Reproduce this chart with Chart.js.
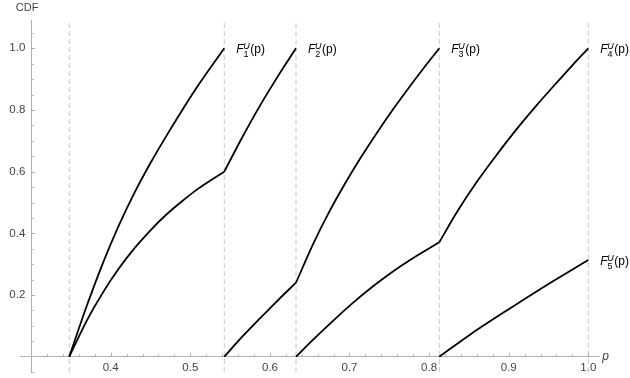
<!DOCTYPE html>
<html>
<head>
<meta charset="utf-8">
<script src="https://cdn.jsdelivr.net/npm/chart.js@4.4.1/dist/chart.umd.min.js"></script>
<style>
  html, body { margin: 0; padding: 0; background: #fff; }
  #wrap { width: 630px; height: 378px; }
</style>
</head>
<body>
<div id="wrap"><canvas id="cdf"></canvas></div>
<script>
// break points (dashed verticals)
var cuts = [0.348, 0.5427, 0.6328, 0.8128, 1.0];

var xTicks = [0.4, 0.5, 0.6, 0.7, 0.8, 0.9, 1.0];
var yTicks = [0.2, 0.4, 0.6, 0.8, 1.0];

// F1
var f1P = [0.348, 0.37, 0.39, 0.41, 0.43, 0.45, 0.47, 0.49, 0.51, 0.5427];
var f1V = [0, 0.165, 0.302, 0.424, 0.532, 0.628, 0.716, 0.800, 0.880, 1.0];

// F2 (two pieces)
var f2P1 = [0.348, 0.37, 0.39, 0.41, 0.43, 0.45, 0.47, 0.49, 0.51, 0.5427];
var f2V1 = [0, 0.117, 0.207, 0.285, 0.352, 0.410, 0.461, 0.505, 0.545, 0.600];
var f2P2 = [0.5427, 0.565, 0.5878, 0.61, 0.6328];
var f2V2 = [0.600, 0.710, 0.815, 0.909, 1.0];

// F3
var f3P1 = [0.5427, 0.565, 0.5878, 0.61, 0.6328];
var f3V1 = [0, 0.064, 0.125, 0.183, 0.240];
var f3P2 = [0.6328, 0.655, 0.675, 0.695, 0.715, 0.735, 0.755, 0.775, 0.795, 0.8128];
var f3V2 = [0.240, 0.369, 0.472, 0.564, 0.649, 0.728, 0.803, 0.874, 0.942, 1.0];

// F4
var f4P1 = [0.6328, 0.655, 0.68, 0.705, 0.73, 0.755, 0.78, 0.8128];
var f4V1 = [0, 0.057, 0.118, 0.176, 0.229, 0.277, 0.320, 0.371];
var f4P2 = [0.8128, 0.835, 0.86, 0.885, 0.91, 0.935, 0.96, 0.98, 1.0];
var f4V2 = [0.371, 0.469, 0.567, 0.655, 0.738, 0.815, 0.888, 0.945, 1.0];

// F5
var f5P = [0.8128, 0.85, 0.9, 0.95, 1.0];
var f5V = [0, 0.069, 0.154, 0.236, 0.3135];

var xMin = 0.2861, xMax = 1.0138;
var yMin = -0.0496, yMax = 1.0918;
var font = "'Liberation Sans', Arial, sans-serif";

function pts(ps, vs) {
  return ps.map(function (p, i) { return { x: p, y: vs[i] }; });
}

var pieces = [
  pts(f1P, f1V), pts(f2P1, f2V1), pts(f2P2, f2V2),
  pts(f3P1, f3V1), pts(f3P2, f3V2), pts(f4P1, f4V1), pts(f4P2, f4V2),
  pts(f5P, f5V)
];

// where the labels go: end of each curve
var labelEnds = [
  [f1P[f1P.length - 1], f1V[f1V.length - 1]],
  [f2P2[f2P2.length - 1], f2V2[f2V2.length - 1]],
  [f3P2[f3P2.length - 1], f3V2[f3V2.length - 1]],
  [f4P2[f4P2.length - 1], f4V2[f4V2.length - 1]],
  [f5P[f5P.length - 1], f5V[f5V.length - 1]]
];

var datasets = [];
cuts.forEach(function (c) {
  datasets.push({
    data: [{ x: c, y: yMin }, { x: c, y: yMax }],
    borderColor: "#c8c8c8",
    borderWidth: 1,
    borderDash: [5, 3],
    pointRadius: 0,
    order: 2
  });
});
pieces.forEach(function (d) {
  datasets.push({
    data: d,
    borderColor: "#000",
    borderWidth: 1.8,
    pointRadius: 0,
    cubicInterpolationMode: "monotone",
    order: 1
  });
});

var decor = {
  id: "decor",
  afterDraw: function (chart) {
    var ctx = chart.ctx, xs = chart.scales.x, ys = chart.scales.y;
    var ax = xs.getPixelForValue(0.3), ay = ys.getPixelForValue(0);
    ctx.save();
    ctx.strokeStyle = "#b0b0b0";
    ctx.lineWidth = 1;
    ctx.beginPath();
    var k, px, py, len;
    for (k = 15; k <= 50; k++) {
      px = Math.round(xs.getPixelForValue(k * 0.02)) + 0.5;
      len = (k % 5 === 0) ? 4 : 2.5;
      ctx.moveTo(px, ay);
      ctx.lineTo(px, ay - len);
    }
    for (k = -1; k <= 21; k++) {
      if (k === 0) continue;
      py = Math.round(ys.getPixelForValue(k * 0.05)) + 0.5;
      len = (k % 4 === 0) ? 4 : 2.5;
      ctx.moveTo(ax, py);
      ctx.lineTo(ax + len, py);
    }
    ctx.stroke();

    ctx.fillStyle = "#444";
    ctx.font = "11px " + font;
    ctx.textAlign = "center";
    ctx.textBaseline = "middle";
    ctx.fillText("CDF", ax - 4, 8);

    ctx.textAlign = "left";
    ctx.textBaseline = "alphabetic";
    ctx.font = "italic 12px " + font;
    ctx.fillText("p", xs.right + 3, ay + 3);

    ctx.fillStyle = "#000";
    labelEnds.forEach(function (e, i) {
      var x0 = xs.getPixelForValue(e[0]) + 12;
      var y0 = ys.getPixelForValue(e[1]) + 5;
      ctx.font = "italic 12px " + font;
      ctx.fillText("F", x0, y0);
      ctx.font = "italic 9px " + font;
      ctx.fillText("U", x0 + 7, y0 - 4.5);
      ctx.font = "9px " + font;
      ctx.fillText(String(i + 1), x0 + 7.3, y0 + 3.5);
      ctx.font = "12px " + font;
      ctx.fillText("(p)", x0 + 14, y0);
    });
    ctx.restore();
  }
};

new Chart(document.getElementById("cdf"), {
  type: "scatter",
  data: { datasets: datasets },
  options: {
    responsive: true,
    maintainAspectRatio: false,
    animation: false,
    showLine: true,
    layout: { padding: { left: 20, top: 20, right: 30.7, bottom: 6 } },
    plugins: { legend: { display: false }, tooltip: { enabled: false } },
    scales: {
      x: {
        type: "linear",
        min: xMin,
        max: xMax,
        position: { y: 0 },
        afterFit: function (s) { s.height = 0; s.paddingLeft = 0; s.paddingRight = 0; },
        afterBuildTicks: function (s) { s.ticks = xTicks.map(function (v) { return { value: v }; }); },
        grid: { display: true, drawOnChartArea: false, drawTicks: false },
        border: { display: true, color: "#b0b0b0", width: 1 },
        ticks: {
          autoSkip: false,
          maxRotation: 0,
          padding: 4.5,
          color: "#444",
          font: { family: font, size: 11.5 },
          callback: function (v) { return Number(v).toFixed(1); }
        }
      },
      y: {
        type: "linear",
        min: yMin,
        max: yMax,
        position: { x: 0.3 },
        afterFit: function (s) { s.width = 0; s.paddingTop = 0; s.paddingBottom = 0; },
        afterBuildTicks: function (s) { s.ticks = yTicks.map(function (v) { return { value: v }; }); },
        grid: { display: true, drawOnChartArea: false, drawTicks: false },
        border: { display: true, color: "#b0b0b0", width: 1 },
        ticks: {
          autoSkip: false,
          padding: 5,
          color: "#444",
          font: { family: font, size: 11.5 },
          callback: function (v) { return Number(v).toFixed(1) + "\u2002"; }
        }
      }
    }
  },
  plugins: [decor]
});
</script>
</body>
</html>
